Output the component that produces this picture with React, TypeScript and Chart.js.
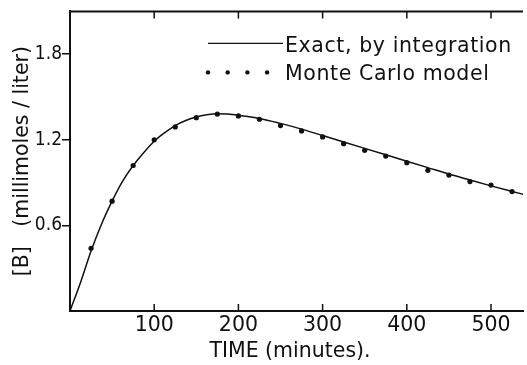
import React, { useEffect, useRef } from "react";
import { Chart, registerables } from "chart.js";
Chart.register(...registerables);

// Exact solution (by integration)
const exactTime = [0, 12.5, 25, 37.5, 50, 62.5, 75, 87.5, 100, 112.5, 125, 137.5, 150, 162.5, 175, 187.5, 200, 225, 250, 275, 300, 325, 350, 375, 400, 425, 450, 475, 500, 525, 540];
const exactConc = [0, 0.2, 0.42, 0.61, 0.77, 0.91, 1.02, 1.11, 1.19, 1.25, 1.3, 1.335, 1.36, 1.375, 1.382, 1.38, 1.372, 1.35, 1.315, 1.275, 1.23, 1.185, 1.14, 1.095, 1.05, 1.005, 0.96, 0.918, 0.877, 0.838, 0.815];

// Monte Carlo model points
const mcTime = [25, 50, 75, 100, 125, 150, 175, 200, 225, 250, 275, 300, 325, 350, 375, 400, 425, 450, 475, 500, 525];
const mcConc = [0.44, 0.77, 1.02, 1.2, 1.29, 1.355, 1.38, 1.367, 1.344, 1.3, 1.262, 1.22, 1.173, 1.126, 1.086, 1.04, 0.986, 0.953, 0.907, 0.883, 0.837];

const xTicks = [100, 200, 300, 400, 500];
const yTicks = [0.6, 1.2, 1.8];
const legendLabels = ["Exact, by integration", "Monte Carlo model"];
const xTitle = "TIME (minutes).  ";
const yTitle = "[B]   (millimoles / liter)";

const INK = "#111";
const FONT = "DejaVu Sans";
const NARROW = "'DejaVu Sans Condensed', 'Liberation Sans', sans-serif";

export default function App() {
  const ref = useRef<HTMLCanvasElement | null>(null);
  useEffect(() => {
    document.body.style.margin = "0";
    const canvas = ref.current!;
    const framePlugin = {
      id: "frame",
      afterDraw(chart: any) {
        const { ctx, chartArea } = chart;
        const { left, top, right, bottom } = chartArea;
        const xs = chart.scales.x;
        ctx.save();
        ctx.strokeStyle = INK;
        ctx.fillStyle = INK;
        ctx.lineWidth = 2;
        ctx.beginPath();
        ctx.moveTo(left, top);
        ctx.lineTo(right, top);
        ctx.stroke();
        ctx.lineWidth = 1.5;
        for (const v of xTicks) {
          const px = xs.getPixelForValue(v);
          ctx.beginPath();
          ctx.moveTo(px, bottom);
          ctx.lineTo(px, bottom - 7);
          ctx.moveTo(px, top);
          ctx.lineTo(px, top + 7);
          ctx.stroke();
        }
        // legend
        const lx = left + 138;
        const ly1 = top + 32;
        const ly2 = top + 61;
        ctx.lineWidth = 1.3;
        ctx.beginPath();
        ctx.moveTo(lx, ly1);
        ctx.lineTo(lx + 75, ly1);
        ctx.stroke();
        for (let i = 0; i < 4; i++) {
          ctx.beginPath();
          ctx.arc(lx + i * 19.7, ly2, 2.2, 0, Math.PI * 2);
          ctx.fill();
        }
        ctx.font = `20.5px "${FONT}"`;
        (ctx as any).letterSpacing = "0.6px";
        ctx.textBaseline = "alphabetic";
        ctx.textAlign = "left";
        ctx.fillText(legendLabels[0], lx + 77, ly1 + 8.5);
        ctx.fillText(legendLabels[1], lx + 77, ly2 + 8);
        ctx.restore();
      },
    };
    const chart = new Chart(canvas, {
      type: "scatter",
      data: {
        datasets: [
          {
            label: legendLabels[0],
            data: exactTime.map((t, i) => ({ x: t, y: exactConc[i] })),
            showLine: true,
            borderColor: INK,
            borderWidth: 1.5,
            pointRadius: 0,
            cubicInterpolationMode: "monotone",
          },
          {
            label: legendLabels[1],
            data: mcTime.map((t, i) => ({ x: t, y: mcConc[i] })),
            showLine: false,
            backgroundColor: INK,
            borderColor: INK,
            pointRadius: 2.6,
            pointBorderWidth: 0,
          },
        ],
      },
      options: {
        animation: false,
        responsive: false,
        maintainAspectRatio: false,
        layout: { padding: { top: 11, right: 0, left: 0, bottom: 0 } },
        plugins: { legend: { display: false }, tooltip: { enabled: false } },
        scales: {
          x: {
            type: "linear",
            min: 0,
            max: 538,
            afterBuildTicks: (s: any) => {
              s.ticks = xTicks.map((v) => ({ value: v }));
            },
            afterFit: (s: any) => {
              s.height = 54;
            },
            grid: { display: false, drawTicks: false },
            border: { display: true, color: INK, width: 2 },
            ticks: {
              color: INK,
              font: { family: FONT, size: 20.5 },
              padding: 2,
              maxRotation: 0,
              callback: (v: any) => String(v),
            },
            title: {
              display: true,
              text: xTitle,
              color: INK,
              font: { family: FONT, size: 20.5 },
              padding: { top: 0, bottom: 1 },
            },
          },
          y: {
            type: "linear",
            min: 0,
            max: 2.1,
            afterBuildTicks: (s: any) => {
              s.ticks = yTicks.map((v) => ({ value: v }));
            },
            afterFit: (s: any) => {
              s.width = 70;
            },
            grid: {
              display: true,
              drawOnChartArea: false,
              drawTicks: true,
              tickLength: 8,
              color: INK,
              lineWidth: 1.5,
            },
            border: { display: true, color: INK, width: 2 },
            ticks: {
              color: INK,
              font: { family: NARROW, size: 19 },
              padding: 0,
              callback: (v: any) => Number(v).toFixed(1),
            },
            title: {
              display: true,
              text: yTitle,
              color: INK,
              font: { family: FONT, size: 20.5 },
              padding: { top: 10, bottom: 0 },
            },
          },
        },
      },
      plugins: [framePlugin],
    } as any);
    return () => chart.destroy();
  }, []);
  return (
    <div style={{ width: 527, height: 365, overflow: "hidden", background: "#fff" }}>
      <canvas ref={ref} width={527} height={365} style={{ display: "block" }} />
    </div>
  );
}
